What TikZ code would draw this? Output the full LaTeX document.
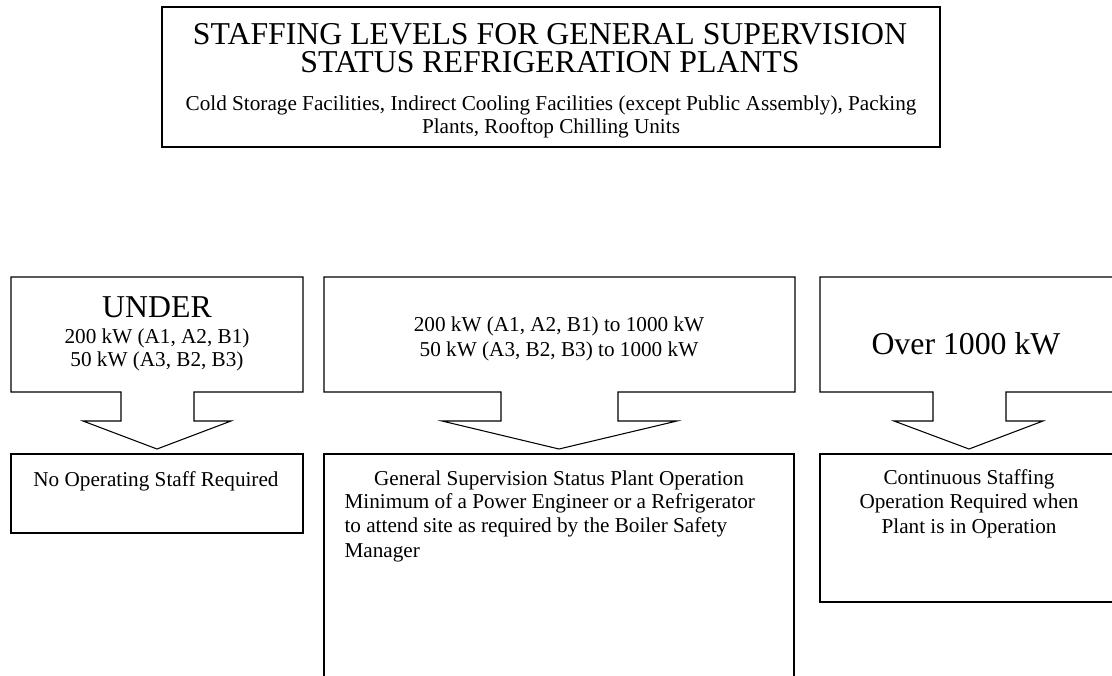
\documentclass[tikz,border=0pt]{standalone}
\usepackage{fontspec}
\setmainfont{Liberation Serif}
\begin{document}
\begin{tikzpicture}[x=0.566pt,y=-0.566pt,line width=0.6pt,
                       big text/.style={font=\fontsize{18}{15.3}\selectfont,inner sep=0pt,align=center,anchor=base},
                       small text/.style={font=\fontsize{12}{13.6}\selectfont,inner sep=0pt,align=center,anchor=base}
                      ]
  \useasboundingbox (0,0) rectangle (1112,675);

  \draw (162,7) rectangle (940,147);
  \node[big text] (title) at (550,72) {STAFFING LEVELS FOR GENERAL SUPERVISION\\STATUS REFRIGERATION PLANTS};
  \node[small text,font=\fontsize{12}{13}\selectfont] (scope) at (551,133) {Cold Storage Facilities, Indirect Cooling Facilities (except Public Assembly), Packing\\Plants, Rooftop Chilling Units};

  \draw (11,277) -- (303,277) -- (303,392) -- (194,392) -- (194,421) -- (231,421) -- (157,449) -- (83,421) -- (121,421) -- (121,392) -- (11,392) -- cycle;
  \draw (324,277) -- (795,277) -- (795,392) -- (618,392) -- (618,421) -- (677,421) -- (559,449) -- (442,421) -- (501,421) -- (501,392) -- (324,392) -- cycle;
  \draw (820,277) -- (1118,277) -- (1118,392) -- (1006,392) -- (1006,421) -- (1043,421) -- (969,449) -- (894,421) -- (933,421) -- (933,392) -- (820,392) -- cycle;

  \node[big text] (under) at (157,317) {UNDER};
  \node[small text,font=\fontsize{12}{12.6}\selectfont] (underkw) at (157,366) {200 kW (A1, A2, B1)\\50 kW (A3, B2, B3)};
  \node[small text] (midkw) at (559,356) {200 kW (A1, A2, B1) to 1000 kW\\50 kW (A3, B2, B3) to 1000 kW};
  \node[big text] (over) at (966,354) {Over 1000 kW};

  \draw (11,454) rectangle (303,533);
  \draw (324,454) rectangle (794,700);
  \draw (820,454) rectangle (1118,602);

  \node[small text] (nostaff) at (156,486) {No Operating Staff Required};
  \node[small text] (gsplant) at (559,485) {General Supervision Status Plant Operation};
  \node[small text,align=left,anchor=base west] (gsbody) at (344,557) {Minimum of a Power Engineer or a Refrigerator\\to attend site as required by the Boiler Safety\\Manager};
  \node[small text] (contstaff) at (969,533) {Continuous Staffing\\Operation Required when\\Plant is in Operation};
 \end{tikzpicture}
\end{document}
